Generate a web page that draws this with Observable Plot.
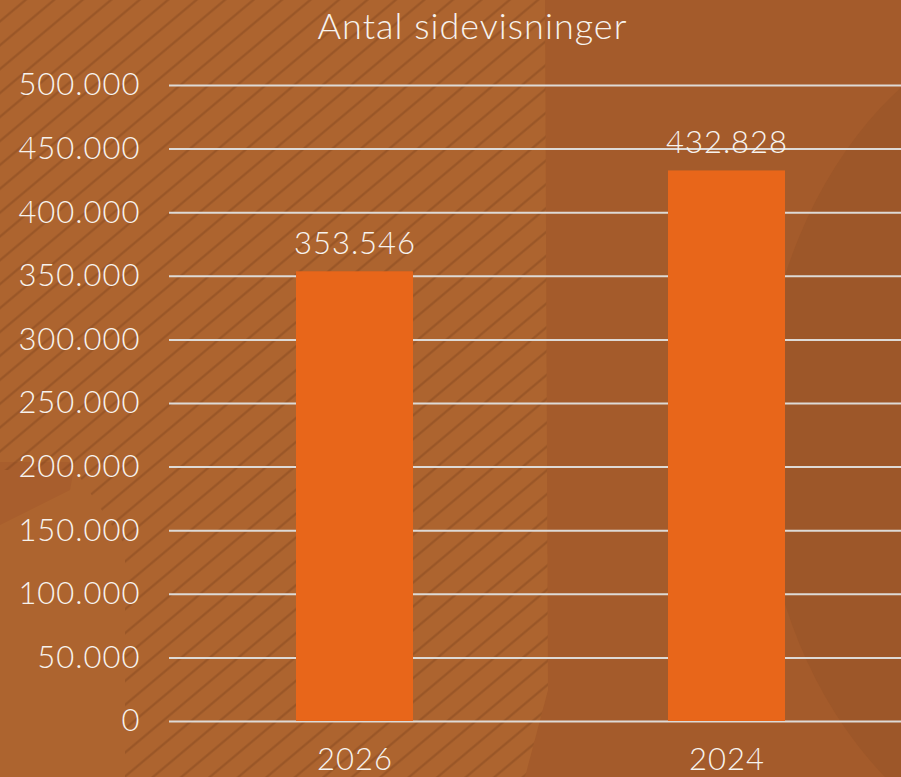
<!DOCTYPE html>
<html>
<head>
<meta charset="utf-8">
<script src="https://cdn.jsdelivr.net/npm/d3@7"></script>
<script src="https://cdn.jsdelivr.net/npm/@observablehq/plot@0.6"></script>
<style>
  html, body { margin: 0; padding: 0; background: #a45b2b; }
  #wrap { position: relative; width: 901px; height: 777px; overflow: hidden; background: #a45b2b; font-family: Lato, "Open Sans", sans-serif; }
  .bg { position: absolute; inset: 0; }
  #light { background: #ad642f; clip-path: polygon(0 0, 545px 0, 548px 690px, 525px 777px, 0 777px); }
  #leftdark { background: #a85e2d; clip-path: polygon(0 462px, 75px 462px, 70px 490px, 0 525px); }
  #stripes { background: repeating-linear-gradient(140deg, rgba(0,0,0,0) 0px, rgba(0,0,0,0) 14.5px, rgba(105,52,20,0.28) 16px, rgba(105,52,20,0.28) 16.8px, rgba(0,0,0,0) 18.3px);
             clip-path: polygon(0 0, 545px 0, 548px 690px, 525px 777px, 125px 777px, 125px 545px, 75px 470px, 0 470px); }
  #rdark { background: #9d5729; clip-path: ellipse(330px 430px at 1090px 440px); }
  #title { position: absolute; left: 0; top: 0; width: 945px; height: 50px; text-align: center; color: #f7f3ee; font-size: 36px; font-weight: 300; letter-spacing: 1px; line-height: 50px; }
  #chart { position: absolute; left: 0; top: 50px; }
  #chart svg { max-width: none !important; }
</style>
</head>
<body>
<div id="wrap">
  <div class="bg" id="light"></div>
  <div class="bg" id="leftdark"></div>
  <div class="bg" id="rdark"></div>
  <div class="bg" id="stripes"></div>
  <div id="title">Antal sidevisninger</div>
  <div id="chart"></div>
</div>
<script>
const years = ["2026", "2024"];
const views = [353546, 432828];
const yTicks = [0, 50000, 100000, 150000, 200000, 250000, 300000, 350000, 400000, 450000, 500000];

const da = d3.formatLocale({decimal: ",", thousands: ".", grouping: [3], currency: ["", " kr"]});
const fmt = da.format(",d");

const data = years.map((year, i) => ({year, views: views[i]}));

const chart = Plot.plot({
  width: 913,
  height: 727,
  marginLeft: 169,
  marginRight: 0,
  marginTop: 35,
  marginBottom: 56,
  style: {background: "transparent", color: "#f7f3ee", fontFamily: "Lato, 'Open Sans', sans-serif", fontSize: "31px", fontWeight: 300, letterSpacing: "1px", overflow: "visible", maxWidth: "none"},
  x: {domain: years, paddingInner: 0.685, paddingOuter: 0.3425, label: null, tickSize: 0, tickPadding: 26},
  y: {domain: [0, 500000], ticks: yTicks, tickFormat: fmt, label: null, tickSize: 0, tickPadding: 29},
  marks: [
    Plot.ruleY(yTicks, {stroke: "#dedad6", strokeWidth: 2}),
    Plot.barY(data, {x: "year", y: "views", fill: "#e8661a"}),
    Plot.text(data, {x: "year", y: "views", text: d => fmt(d.views), lineAnchor: "bottom", dy: -18, fill: "#f7f3ee", fontSize: 31, fontWeight: 300})
  ]
});
document.getElementById("chart").appendChild(chart);
</script>
</body>
</html>
